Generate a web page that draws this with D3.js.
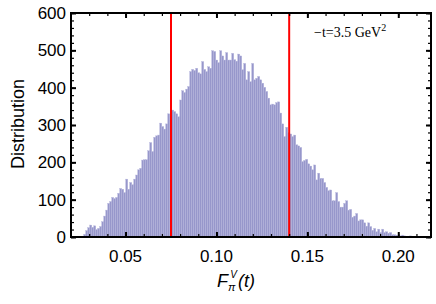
<!DOCTYPE html>
<html>
<head>
<meta charset="utf-8">
<script src="https://cdn.jsdelivr.net/npm/d3@7"></script>
<style>
    body { margin: 0; background: #fff; }
    svg { display: block; }
</style>
</head>
<body>
<div id="chart-container"></div>
<script>
(function () {

    // histogram counts, bins of width binWidth starting at binStart
    var binStart = 0.027;
    var binWidth = 0.0011;
    var counts = [
        7, 17, 25, 32, 26, 30, 20, 23, 28, 41, 56, 72, 90, 95, 106, 103, 106, 117, 130, 128, 119, 155, 128, 146, 140,
        155, 166, 180, 184, 206, 207, 207, 231, 253, 229, 267, 271, 273, 305, 296, 289, 303, 330, 315, 340, 336, 330, 322, 367, 392, 387, 396, 403,
        443, 449, 446, 452, 440, 437, 470, 449, 443, 456, 452, 499, 497, 474, 467, 499, 485, 474, 494, 474, 474, 492, 475, 471,
        490, 485, 448, 465, 421, 443, 416, 465, 421, 425, 430, 421, 412, 401, 390, 372, 354, 356, 354, 360, 362, 332, 303, 269, 294, 280, 276,
        269, 273, 247, 244, 240, 202, 205, 208, 196, 190, 180, 193, 153, 171, 157, 157, 146, 133, 124, 126, 97, 97, 119, 95, 80, 80, 90, 97,
        72, 74, 53, 56, 63, 43, 46, 46, 38, 29, 38, 28, 18, 23, 14, 21, 12, 21, 12, 14, 10, 12, 6, 6, 5, 5, 3, 5, 3, 2, 2, 3, 1
    ];
    var cutLines = [0.075, 0.14];

    var xTicks = [0.05, 0.10, 0.15, 0.20];
    var xMinorTicks = d3.range(3, 22).map(function (d) { return d / 100; });
    var yTicks = [0, 100, 200, 300, 400, 500, 600];
    var yMinorTicks = d3.range(0, 601, 20);

    var margins = { top: 13, bottom: 67, left: 71, right: 5 };
    var dimensions = {
        width: 436 - margins.left - margins.right,
        height: 304 - margins.top - margins.bottom
    };

    var x = d3.scaleLinear()
        .domain([0.02, 0.218])
        .range([0, dimensions.width]);

    var y = d3.scaleLinear()
        .domain([0, 600])
        .range([dimensions.height, 0]);

    var svg = d3.select('#chart-container')
        .append('svg')
            .attr('width', 436)
            .attr('height', 304);

    var chart = svg.append('g')
        .attr('transform', 'translate(' + margins.left + ',' + margins.top + ')');

    var bins = counts.map(function (c, i) {
        return { x0: binStart + i * binWidth, x1: binStart + (i + 1) * binWidth, n: c };
    });

    chart.append('g')
        .selectAll('rect')
        .data(bins)
        .enter().append('rect')
            .attr('x', function (d) { return x(d.x0); })
            .attr('width', function (d) { return x(d.x1) - x(d.x0); })
            .attr('y', function (d) { return y(d.n); })
            .attr('height', function (d) { return y(0) - y(d.n); })
            .attr('fill', '#9797cb')
            .attr('stroke', '#b6b6dd')
            .attr('stroke-width', 0.4);

    chart.selectAll('.cut')
        .data(cutLines)
        .enter().append('line')
            .attr('class', 'cut')
            .attr('x1', function (d) { return x(d); })
            .attr('x2', function (d) { return x(d); })
            .attr('y1', 0)
            .attr('y2', dimensions.height)
            .attr('stroke', '#ff0000')
            .attr('stroke-width', 2);

    // frame ticks, pointing inwards on all four sides
    var tickGroups = [
        [d3.axisBottom(x), 'translate(0,' + dimensions.height + ')', xMinorTicks, 3],
        [d3.axisBottom(x), 'translate(0,' + dimensions.height + ')', xTicks, 5],
        [d3.axisTop(x), 'translate(0,0)', xMinorTicks, 3],
        [d3.axisTop(x), 'translate(0,0)', xTicks, 5],
        [d3.axisLeft(y), 'translate(0,0)', yMinorTicks, 3],
        [d3.axisLeft(y), 'translate(0,0)', yTicks, 5],
        [d3.axisRight(y), 'translate(' + dimensions.width + ',0)', yMinorTicks, 3],
        [d3.axisRight(y), 'translate(' + dimensions.width + ',0)', yTicks, 5]
    ];
    tickGroups.forEach(function (t) {
        var len = t[3];
        var g = chart.append('g')
            .attr('transform', t[1])
            .call(t[0].tickValues(t[2]).tickSize(-len).tickSizeOuter(0).tickFormat(''));
        g.select('.domain').remove();
        g.selectAll('line').attr('stroke', '#000').attr('stroke-width', len > 4 ? 2 : 1.2);
    });

    chart.append('rect')
        .attr('width', dimensions.width)
        .attr('height', dimensions.height)
        .attr('fill', 'none')
        .attr('stroke', '#000')
        .attr('stroke-width', 2);

    // tick labels
    chart.append('g')
        .selectAll('text')
        .data(xTicks)
        .enter().append('text')
            .attr('x', function (d) { return x(d); })
            .attr('y', dimensions.height + 25)
            .attr('text-anchor', 'middle')
            .style('font', '17px "Liberation Sans", Arial, sans-serif')
            .text(d3.format('.2f'));

    chart.append('g')
        .selectAll('text')
        .data(yTicks)
        .enter().append('text')
            .attr('x', -5)
            .attr('y', function (d) { return y(d) + 6; })
            .attr('text-anchor', 'end')
            .style('font', '17px "Liberation Sans", Arial, sans-serif')
            .text(function (d) { return d; });

    svg.append('text')
        .attr('transform', 'translate(24,' + (margins.top + 111) + ') rotate(-90)')
        .attr('text-anchor', 'middle')
        .style('font', '18px "Liberation Sans", Arial, sans-serif')
        .text('Distribution');

    var xl = svg.append('text')
        .attr('x', 236)
        .attr('y', 287)
        .attr('text-anchor', 'middle')
        .style('font', 'italic 18px "Liberation Sans", Arial, sans-serif');
    xl.append('tspan').text('F');
    xl.append('tspan').attr('dy', 4).style('font-size', '11px').text('π');
    xl.append('tspan').attr('dx', -5).attr('dy', -13).style('font-size', '10px').text('V');
    xl.append('tspan').attr('dx', 1).attr('dy', 9).text('(t)');

    var note = svg.append('text')
        .attr('x', 314)
        .attr('y', 37)
        .style('font', '14px "Liberation Serif", "Times New Roman", serif');
    note.append('tspan').text('−t=3.5 GeV');
    note.append('tspan').attr('dy', -6).style('font-size', '10px').text('2');

})();
</script>
</body>
</html>
